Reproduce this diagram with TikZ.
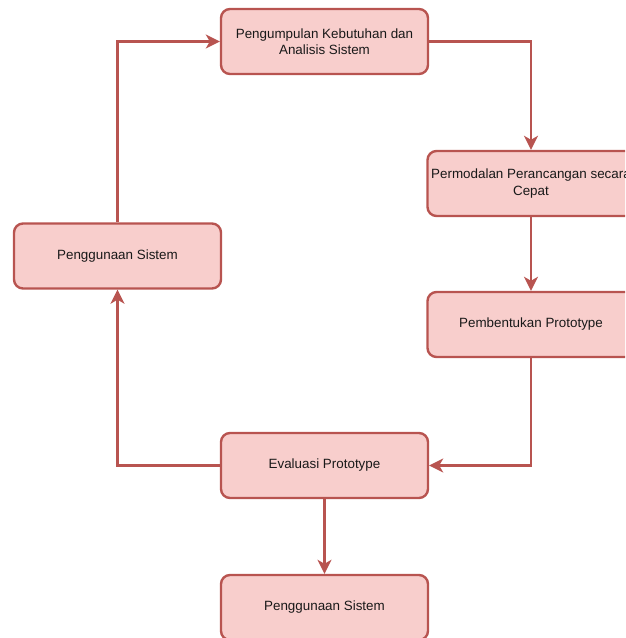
\documentclass[tikz,border=0pt]{standalone}
\usepackage{fontspec}
\setmainfont{Liberation Sans}
\usetikzlibrary{arrows.meta}
\definecolor{boxfill}{HTML}{F8CECC}
\definecolor{boxline}{HTML}{B85450}
\tikzset{
  procbox/.style={draw=boxline, fill=boxfill, line width=2.4pt, rounded corners=9pt,
    minimum width=207pt, minimum height=65pt, inner sep=0pt, align=center,
    font=\fontsize{13.4pt}{16.5pt}\selectfont, text=black!90},
  flow/.style={draw=boxline, line width=2.6pt, -{Stealth[length=14pt,width=14pt,inset=4pt]}}
}
\begin{document}
\begin{tikzpicture}[x=1pt,y=-1pt]
\useasboundingbox (0,0) rectangle (625,638);
\clip (0,0) rectangle (625,638);
\node[procbox] (req) at (324.5,41.5) {Pengumpulan Kebutuhan dan\\Analisis Sistem};
\node[procbox] (design) at (531,183.5) {Permodalan Perancangan secara\\Cepat};
\node[procbox] (build) at (531,324.5) {Pembentukan Prototype};
\node[procbox] (eval) at (324.5,465.5) {Evaluasi Prototype};
\node[procbox] (use) at (117.5,256) {Penggunaan Sistem};
\node[procbox] (final) at (324.5,607.5) {Penggunaan Sistem};
\draw[flow] (req.east) -| (design.north);
\draw[flow] (design.south) -- (build.north);
\draw[flow] (build.south) |- (eval.east);
\draw[flow] (eval.south) -- (final.north);
\draw[flow] (eval.west) -| (use.south);
\draw[flow] (use.north) |- (req.west);
\end{tikzpicture}
\end{document}
